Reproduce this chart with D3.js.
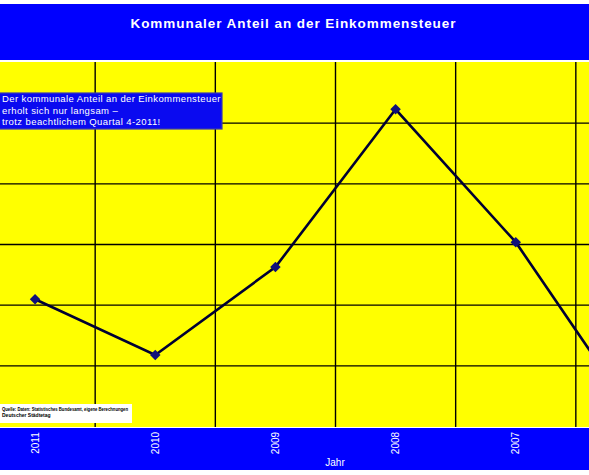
<!DOCTYPE html>
<html lang="de">
<head>
<meta charset="UTF-8">
<script src="https://cdn.jsdelivr.net/npm/d3@7"></script>
<title>Kommunaler Anteil an der Einkommensteuer</title>
<style>
    body { margin: 0; background: white; }
    svg { display: block; font-family: "Liberation Sans", Arial, sans-serif; }
    .grid line { stroke: black; stroke-width: 1.4px; }
    .grid path { display: none; }
    .xlab path, .xlab line { display: none; }
</style>
</head>
<body>
<div id="chart"></div>
<script>
    // years run backwards, as in the original
    const years = ["2011", "2010", "2009", "2008", "2007", "2006"];
    const anteil = [23.09, 22.17, 23.62, 26.22, 24.03, 21.13];
    const yTicks = [21, 22, 23, 24, 25, 26, 27];

    const title = "Kommunaler Anteil an der Einkommensteuer";
    const note = ["Der kommunale Anteil an der Einkommensteuer",
                  "erholt sich nur langsam –",
                  "trotz beachtlichem Quartal 4-2011!"];
    const source = ["Quelle: Daten: Statistisches Bundesamt, eigene Berechnungen",
                    "Deutscher Städtetag"];

    const W = 589, H = 475;
    const plot = { top: 62, bottom: 427 };

    const svg = d3.select("#chart").append("svg")
        .attr("width", W)
        .attr("height", H);

    const x = d3.scaleBand().domain(years).range([-25, 696]);
    const y = d3.scaleLinear().domain([21, 27]).range([426, 62]);
    const mid = d => x(d) + x.bandwidth() / 2;

    // yellow plot area
    svg.append("rect")
        .attr("x", 0).attr("y", plot.top)
        .attr("width", W).attr("height", plot.bottom - plot.top)
        .attr("fill", "#ffff00");

    // horizontal grid
    svg.append("g")
        .attr("class", "grid")
        .attr("transform", "translate(-25,0)")
        .call(d3.axisLeft(y).tickValues(yTicks.slice(1, -1)).tickSize(-700).tickFormat(""));

    // vertical grid on category boundaries
    svg.append("g")
        .attr("class", "grid")
        .attr("transform", `translate(0,${plot.top})`)
        .call(d3.axisBottom(x).tickSize(plot.bottom - plot.top).tickFormat("").offset(0))
        .selectAll(".tick")
        .attr("transform", d => `translate(${x(d) + x.bandwidth()},0)`);

    // line and markers
    const pts = years.map((d, i) => [mid(d), y(anteil[i])]);

    svg.append("path")
        .attr("d", d3.line()(pts))
        .attr("fill", "none")
        .attr("stroke", "#000033")
        .attr("stroke-width", 2.6);

    svg.selectAll(".mark")
        .data(pts)
        .enter()
        .append("path")
        .attr("class", "mark")
        .attr("transform", d => `translate(${d[0]},${d[1]})`)
        .attr("d", d3.symbol(d3.symbolDiamond2, 70))
        .attr("fill", "#10107a");

    // title band
    svg.append("rect")
        .attr("x", 0).attr("y", 4)
        .attr("width", W).attr("height", 56)
        .attr("fill", "#0000ff");

    svg.append("text")
        .attr("x", 293).attr("y", 28)
        .attr("text-anchor", "middle")
        .attr("fill", "white")
        .attr("font-weight", "bold")
        .attr("font-size", 13.5)
        .attr("textLength", 325)
        .text(title);

    // note box
    svg.append("rect")
        .attr("x", -2).attr("y", 93)
        .attr("width", 224).attr("height", 36)
        .attr("fill", "#0a0af0")
        .attr("stroke", "#3a3ab0")
        .attr("stroke-width", 1.2);

    svg.selectAll(".note")
        .data(note)
        .enter()
        .append("text")
        .attr("class", "note")
        .attr("x", 2)
        .attr("y", (d, i) => 102 + i * 11.5)
        .attr("fill", "white")
        .attr("font-size", 9.5)
        .attr("letter-spacing", 0.4)
        .text(d => d);

    // source box
    svg.append("rect")
        .attr("x", 0).attr("y", 404)
        .attr("width", 132).attr("height", 19)
        .attr("fill", "white");

    svg.selectAll(".src")
        .data(source)
        .enter()
        .append("text")
        .attr("class", "src")
        .attr("x", 2)
        .attr("y", (d, i) => 411 + i * 5.5)
        .attr("fill", "black")
        .attr("font-weight", "bold")
        .attr("font-size", 5)
        .attr("textLength", (d, i) => i === 0 ? 126 : null)
        .attr("lengthAdjust", "spacingAndGlyphs")
        .text(d => d);

    // x axis band
    svg.append("rect")
        .attr("x", 0).attr("y", 428)
        .attr("width", W).attr("height", 42)
        .attr("fill", "#0000ff");

    // only the years whose label falls inside the picture
    const xAxis = svg.append("g")
        .attr("class", "xlab")
        .attr("transform", "translate(0,428)")
        .call(d3.axisBottom(x).tickSize(0).tickValues(years.filter(d => mid(d) < W - 10)));

    xAxis.selectAll("text")
        .attr("fill", "white")
        .attr("font-size", 10)
        .attr("font-family", "Liberation Sans, Arial, sans-serif")
        .attr("text-anchor", "middle")
        .attr("transform", "translate(0,15) rotate(-90)")
        .attr("x", 0).attr("y", 0)
        .attr("dy", "0.35em");

    svg.append("text")
        .attr("x", 335).attr("y", 466)
        .attr("text-anchor", "middle")
        .attr("fill", "white")
        .attr("font-size", 10)
        .text("Jahr");
</script>
</body>
</html>
